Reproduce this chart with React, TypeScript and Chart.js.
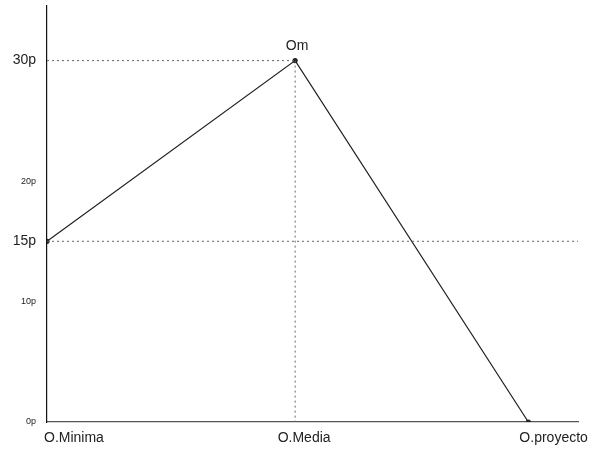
import React, { useEffect, useRef } from "react";
import { Chart, registerables } from "chart.js";

Chart.register(...registerables);

const categories = ["O.Minima", "O.Media", "O.proyecto"];
const xPositions = [0, 1, 1.94];
const values = [15, 30, 0];
const yTicks = [0, 10, 15, 20, 30];
const bigTicks = [15, 30];
const peakLabel = "Om";
const xMax = 2.14;
const yMax = 34.6;

const labelAlign: CanvasTextAlign[] = ["left", "center", "left"];
const labelShift = [-3, 9, -9];

const textPlugin = {
  id: "textPlugin",
  afterDraw(chart: any) {
    const ctx = chart.ctx;
    const xs = chart.scales.x;
    const ys = chart.scales.y;
    ctx.save();
    ctx.fillStyle = "#222";
    ctx.font = "14px 'Liberation Sans', Arial, sans-serif";
    ctx.textBaseline = "middle";
    categories.forEach((c, i) => {
      ctx.textAlign = labelAlign[i];
      ctx.fillText(c, xs.getPixelForValue(xPositions[i]) + labelShift[i], chart.chartArea.bottom + 16);
    });
    ctx.textAlign = "center";
    ctx.fillText(peakLabel, xs.getPixelForValue(xPositions[1]) + 2, ys.getPixelForValue(values[1]) - 14);
    ctx.restore();
  },
};

export default function App() {
  const ref = useRef<HTMLCanvasElement>(null);
  useEffect(() => {
    document.body.style.margin = "0";
    const dotted = {
      borderColor: "#666",
      borderWidth: 1,
      borderDash: [2, 3],
      pointRadius: 0,
      showLine: true,
      fill: false,
    };
    const chart = new Chart(ref.current!, {
      type: "scatter",
      data: {
        datasets: [
          {
            data: [
              { x: 0, y: values[1] },
              { x: xPositions[1], y: values[1] },
            ],
            ...dotted,
          },
          {
            data: [
              { x: 0, y: values[0] },
              { x: xMax, y: values[0] },
            ],
            ...dotted,
          },
          {
            data: [
              { x: xPositions[1], y: values[1] },
              { x: xPositions[1], y: 0 },
            ],
            ...dotted,
          },
          {
            data: xPositions.map((x, i) => ({ x, y: values[i] })),
            showLine: true,
            borderColor: "#222",
            borderWidth: 1.2,
            pointRadius: 2,
            pointBackgroundColor: "#222",
            pointBorderColor: "#222",
            fill: false,
          },
        ],
      },
      options: {
        animation: false,
        responsive: false,
        maintainAspectRatio: false,
        layout: { padding: { top: 3, right: 21 } },
        plugins: { legend: { display: false }, tooltip: { enabled: false } },
        scales: {
          x: {
            type: "linear",
            min: 0,
            max: xMax,
            grid: { display: false },
            border: { display: true, color: "#555", width: 1.2 },
            ticks: { display: false },
            afterFit(s: any) {
              s.height = 37;
              s.paddingLeft = 0;
              s.paddingRight = 0;
            },
          },
          y: {
            type: "linear",
            min: 0,
            max: yMax,
            grid: { display: false },
            border: { display: true, color: "#111", width: 1.2 },
            afterBuildTicks(s: any) {
              s.ticks = yTicks.map((v) => ({ value: v }));
            },
            afterFit(s: any) {
              s.width = 47;
              s.paddingTop = 0;
              s.paddingBottom = 0;
            },
            ticks: {
              padding: 3,
              color: "#222",
              callback: (v: any) => v + "p",
              font: (c: any) =>
                c.tick && bigTicks.includes(c.tick.value)
                  ? { size: 14, family: "'Liberation Sans', Arial, sans-serif" }
                  : { size: 9, family: "'Liberation Sans', Arial, sans-serif" },
            },
          },
        },
      },
      plugins: [textPlugin],
    });
    return () => chart.destroy();
  }, []);
  return (
    <div style={{ width: 599, height: 459 }}>
      <canvas ref={ref} width={599} height={459} style={{ width: 599, height: 459 }} />
    </div>
  );
}
